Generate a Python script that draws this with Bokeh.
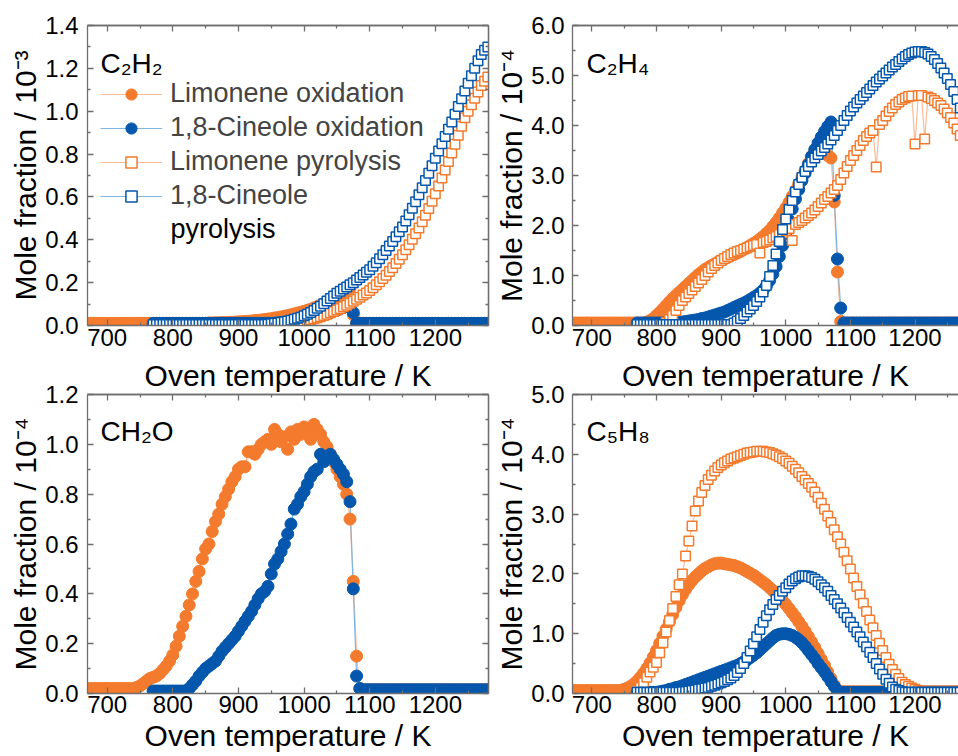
from bokeh.plotting import figure
from bokeh.models import (Range1d, LinearAxis, FixedTicker, PrintfTickFormatter,
                          Legend, LegendItem, Label)
from bokeh.layouts import column, row
from bokeh.embed import file_html
from bokeh.resources import INLINE

# ---------------- data ----------------
# temperature grids (K)
T_LIM_OX = list(range(670, 1281, 5))   # limonene oxidation
T_REST = list(range(770, 1281, 5))     # 1,8-cineole oxidation and both pyrolysis series

# C2H2, mole fraction / 1e-3
c2h2_lim_ox = ([0.01] * 37 +
    [0.012, 0.012, 0.013, 0.013, 0.014, 0.014, 0.015, 0.015, 0.016, 0.017,
     0.018, 0.019, 0.02, 0.021, 0.023, 0.024, 0.026, 0.028, 0.03, 0.032,
     0.035, 0.037, 0.04, 0.043, 0.046, 0.05, 0.054, 0.058, 0.062, 0.066,
     0.071, 0.076, 0.082, 0.088, 0.095, 0.102, 0.11, 0.118, 0.126, 0.134,
     0.143, 0.153, 0.163, 0.173, 0.05] + [0.01] * 41)
c2h2_cin_ox = ([0.01] * 37 +
    [0.011, 0.012, 0.013, 0.014, 0.015, 0.017, 0.019, 0.021, 0.023, 0.026,
     0.029, 0.032, 0.036, 0.04, 0.045, 0.05, 0.055, 0.06, 0.066, 0.072,
     0.078, 0.084, 0.09, 0.095, 0.06] + [0.01] * 41)
c2h2_lim_py = ([0.005] * 37 +
    [0.006, 0.007, 0.008, 0.009, 0.01, 0.012, 0.014, 0.016, 0.018, 0.02,
     0.023, 0.027, 0.031, 0.036, 0.041, 0.047, 0.053, 0.059, 0.065, 0.072,
     0.079, 0.087, 0.095, 0.104, 0.113, 0.122, 0.132, 0.142, 0.152, 0.163,
     0.176, 0.19, 0.204, 0.219, 0.235, 0.252, 0.27, 0.289, 0.309, 0.33,
     0.353, 0.377, 0.402, 0.428, 0.455, 0.484, 0.514, 0.546, 0.58, 0.615,
     0.651, 0.688, 0.726, 0.765, 0.805, 0.846, 0.888, 0.93, 0.97, 1.0,
     1.03, 1.06, 1.09, 1.12, 1.14, 1.16])
c2h2_cin_py = ([0.005] * 35 +
    [0.006, 0.008, 0.01, 0.012, 0.015, 0.018, 0.021, 0.025, 0.029, 0.034, 0.039, 0.045,
     0.053, 0.061, 0.07, 0.08, 0.09, 0.102, 0.114, 0.126, 0.138, 0.15,
     0.16, 0.17, 0.18, 0.19, 0.2, 0.212, 0.224, 0.236, 0.248, 0.26,
     0.276, 0.293, 0.311, 0.33, 0.35, 0.371, 0.392, 0.414, 0.437, 0.46,
     0.488, 0.517, 0.547, 0.578, 0.61, 0.643, 0.677, 0.711, 0.745, 0.78,
     0.814, 0.848, 0.882, 0.916, 0.95, 0.986, 1.022, 1.058, 1.094, 1.13,
     1.165, 1.2, 1.235, 1.265, 1.285, 1.3])

# C2H4, mole fraction / 1e-4
c2h4_lim_ox = ([0.05] * 23 +
    [0.07, 0.1, 0.14, 0.2, 0.26, 0.33, 0.4, 0.47, 0.54, 0.6,
     0.66, 0.72, 0.78, 0.84, 0.9, 0.96, 1.02, 1.07, 1.12, 1.16,
     1.2, 1.23, 1.27, 1.3, 1.33, 1.36, 1.39, 1.42, 1.45, 1.48,
     1.52, 1.56, 1.6, 1.64, 1.68, 1.73, 1.78, 1.84, 1.9, 1.98,
     2.06, 2.15, 2.25, 2.35, 2.46, 2.58, 2.7, 2.83, 2.96, 3.1,
     3.24, 3.38, 3.5, 3.55, 3.5, 3.45, 3.4, 3.35, 2.47, 1.07,
     0.08] + [0.05] * 39)
c2h4_cin_ox = ([0.05] * 13 +
    [0.06, 0.07, 0.08, 0.09, 0.1, 0.11, 0.12, 0.14, 0.15, 0.17,
     0.19, 0.21, 0.23, 0.25, 0.27, 0.3, 0.33, 0.36, 0.39, 0.42,
     0.45, 0.48, 0.52, 0.56, 0.6, 0.65, 0.71, 0.79, 0.9, 1.03,
     1.18, 1.38, 1.6, 1.84, 2.1, 2.33, 2.53, 2.72, 2.9, 3.05,
     3.22, 3.38, 3.52, 3.65, 3.77, 3.88, 3.98, 4.07, 2.6, 1.33,
     0.35] + [0.05] * 39)
c2h4_lim_py = ([0.02] * 9 +
    [0.06, 0.12, 0.2, 0.3, 0.4, 0.5, 0.57, 0.64, 0.71, 0.78,
     0.85, 0.92, 1.0, 1.07, 1.14, 1.2, 1.25, 1.3, 1.34, 1.38,
     1.42, 1.45, 1.48, 1.5, 1.53, 1.55, 1.58, 1.6, 1.62, 1.45,
     1.66, 1.68, 1.71, 1.75, 1.78, 1.82, 1.86, 1.9, 1.94, 1.7,
     2.02, 2.06, 2.1, 2.15, 2.2, 2.25, 2.31, 2.38, 2.45, 2.52,
     2.58, 2.65, 2.72, 2.8, 2.92, 3.05, 3.18, 3.3, 3.4, 3.5,
     3.6, 3.7, 3.78, 3.85, 3.9, 3.17, 4.02, 4.1, 4.19, 4.28,
     4.35, 4.42, 4.47, 4.52, 4.55, 4.58, 4.59, 3.63, 4.6, 4.6,
     3.73, 4.57, 4.54, 4.5, 4.45, 4.4, 4.33, 4.25, 4.16, 4.05,
     3.93, 3.8, 3.67, 3.55])
c2h4_cin_py = ([0.02] * 30 +
    [0.05, 0.09, 0.14, 0.2, 0.27, 0.33, 0.4, 0.48, 0.57, 0.67,
     0.8, 0.98, 1.2, 1.43, 1.68, 1.92, 2.13, 2.32, 2.5, 2.67,
     2.82, 2.96, 3.08, 3.18, 3.27, 3.35, 3.42, 3.49, 3.56, 3.63,
     3.71, 3.8, 3.9, 4.0, 4.1, 4.2, 4.29, 4.37, 4.45, 4.52,
     4.59, 4.66, 4.73, 4.8, 4.87, 4.93, 4.99, 5.05, 5.11, 5.17,
     5.22, 5.28, 5.33, 5.38, 5.42, 5.45, 5.47, 5.48, 5.48, 5.46,
     5.43, 5.38, 5.32, 5.24, 5.15, 5.05, 4.94, 4.82, 4.68, 4.52,
     4.35, 4.17, 4.0])

# CH2O, mole fraction / 1e-4
ch2o_lim_ox = ([0.02] * 15 +
    [0.025, 0.03, 0.04, 0.05, 0.06, 0.065, 0.07, 0.08, 0.095, 0.11,
     0.13, 0.155, 0.19, 0.23, 0.27, 0.31, 0.355, 0.4, 0.45, 0.49,
     0.54, 0.58, 0.6, 0.65, 0.69, 0.72, 0.76, 0.79, 0.82, 0.85,
     0.87, 0.9, 0.91, 0.91, 0.97, 0.97, 0.96, 0.98, 1.0, 1.01,
     1.02, 1.0, 1.06, 1.04, 1.01, 1.03, 0.98, 1.05, 1.02, 1.06,
     1.04, 1.07, 1.05, 1.02, 1.08, 1.06, 1.04, 1.01, 0.99, 0.96,
     0.93, 0.9, 0.87, 0.84, 0.8, 0.7, 0.45, 0.15, 0.02] + [0.015] * 39)
ch2o_cin_ox = ([0.01] * 11 +
    [0.02, 0.035, 0.05, 0.07, 0.085, 0.1, 0.11, 0.12, 0.13, 0.15,
     0.17, 0.185, 0.2, 0.215, 0.23, 0.25, 0.27, 0.29, 0.31, 0.33,
     0.355, 0.38, 0.4, 0.41, 0.43, 0.48, 0.52, 0.54, 0.57, 0.6,
     0.64, 0.68, 0.74, 0.76, 0.79, 0.81, 0.84, 0.87, 0.89, 0.9,
     0.96, 0.93, 0.95, 0.96, 0.94, 0.92, 0.9, 0.88, 0.85, 0.77,
     0.42, 0.07, 0.02] + [0.015] * 39)

# C5H8, mole fraction / 1e-4
c5h8_lim_ox = ([0.05] * 16 +
    [0.07, 0.09, 0.12, 0.16, 0.21, 0.27, 0.34, 0.42, 0.51, 0.61,
     0.72, 0.84, 0.96, 1.08, 1.2, 1.32, 1.44, 1.55, 1.65, 1.74,
     1.82, 1.89, 1.95, 2.0, 2.05, 2.09, 2.12, 2.15, 2.17, 2.18,
     2.18, 2.17, 2.16, 2.15, 2.14, 2.12, 2.1, 2.07, 2.04, 2.01,
     1.98, 1.94, 1.9, 1.86, 1.82, 1.77, 1.72, 1.67, 1.61, 1.55,
     1.49, 1.42, 1.35, 1.28, 1.2, 1.12, 1.04, 0.95, 0.86, 0.77,
     0.67, 0.57, 0.47, 0.36, 0.25, 0.14, 0.05] + [0.03] * 40)
c5h8_cin_ox = ([0.02] * 7 +
    [0.03, 0.04, 0.05, 0.07, 0.08, 0.1, 0.11, 0.13, 0.15, 0.17,
     0.19, 0.21, 0.23, 0.25, 0.27, 0.29, 0.31, 0.33, 0.35, 0.37,
     0.39, 0.41, 0.43, 0.45, 0.47, 0.5, 0.53, 0.56, 0.6, 0.64,
     0.68, 0.73, 0.78, 0.83, 0.88, 0.93, 0.97, 0.99, 1.0, 1.0,
     0.99, 0.97, 0.94, 0.9, 0.85, 0.79, 0.72, 0.65, 0.58, 0.5,
     0.43, 0.36, 0.28, 0.2, 0.12, 0.05] + [0.02] * 40)
c5h8_lim_py = ([0.05, 0.1, 0.18, 0.27, 0.36, 0.44, 0.52, 0.68, 0.85, 1.03,
     1.22, 1.42, 1.62, 1.82, 2.0, 2.3, 2.55, 2.8, 3.05, 3.22,
     3.36, 3.48, 3.58, 3.65, 3.72, 3.78, 3.82, 3.86, 3.89, 3.92,
     3.94, 3.96, 3.98, 4.0, 4.02, 4.03, 4.04, 4.05, 4.05, 4.05,
     4.04, 4.03, 4.01, 3.99, 3.96, 3.93, 3.89, 3.85, 3.8, 3.75,
     3.69, 3.63, 3.57, 3.51, 3.45, 3.37, 3.28, 3.18, 3.08, 2.97,
     2.86, 2.74, 2.62, 2.5, 2.36, 2.22, 2.08, 1.93, 1.79, 1.65,
     1.51, 1.37, 1.23, 1.1, 0.97, 0.84, 0.72, 0.6, 0.49, 0.4,
     0.32, 0.25, 0.19, 0.15, 0.12, 0.09, 0.07, 0.05, 0.04, 0.03] + [0.02] * 13)
c5h8_cin_py = ([0.02] * 14 +
    [0.03, 0.035, 0.04, 0.05, 0.06, 0.07, 0.08, 0.09, 0.1, 0.12,
     0.14, 0.16, 0.18, 0.2, 0.23, 0.26, 0.3, 0.35, 0.42, 0.5,
     0.6, 0.71, 0.83, 0.95, 1.07, 1.19, 1.3, 1.4, 1.49, 1.57,
     1.64, 1.71, 1.77, 1.83, 1.88, 1.92, 1.95, 1.97, 1.97, 1.96,
     1.94, 1.91, 1.87, 1.82, 1.77, 1.71, 1.64, 1.57, 1.5, 1.43,
     1.35, 1.27, 1.19, 1.11, 1.03, 0.95, 0.86, 0.78, 0.69, 0.6,
     0.5, 0.41, 0.32, 0.24, 0.17, 0.11, 0.07, 0.05, 0.03] + [0.02] * 20)

# tick values
X_TICKS = [700, 800, 900, 1000, 1100, 1200]
X_MINOR = [750, 850, 950, 1050, 1150, 1250]
Y_TICKS_C2H2 = [0.0, 0.2, 0.4, 0.6, 0.8, 1.0, 1.2, 1.4]
Y_MINOR_C2H2 = [0.1, 0.3, 0.5, 0.7, 0.9, 1.1, 1.3]
Y_TICKS_C2H4 = [0.0, 1.0, 2.0, 3.0, 4.0, 5.0, 6.0]
Y_MINOR_C2H4 = [0.5, 1.5, 2.5, 3.5, 4.5, 5.5]
Y_TICKS_CH2O = [0.0, 0.2, 0.4, 0.6, 0.8, 1.0, 1.2]
Y_MINOR_CH2O = [0.1, 0.3, 0.5, 0.7, 0.9, 1.1]
Y_TICKS_C5H8 = [0.0, 1.0, 2.0, 3.0, 4.0, 5.0]
Y_MINOR_C5H8 = [0.5, 1.5, 2.5, 3.5, 4.5]

SERIES_LABELS = ["Limonene oxidation", "1,8-Cineole oxidation",
                 "Limonene pyrolysis", "1,8-Cineole pyrolysis"]
X_TITLE = "Oven temperature / K"

for name, arr, grid in [("c2h2_lim_ox", c2h2_lim_ox, T_LIM_OX), ("c2h2_cin_ox", c2h2_cin_ox, T_REST),
                        ("c2h2_lim_py", c2h2_lim_py, T_REST), ("c2h2_cin_py", c2h2_cin_py, T_REST),
                        ("c2h4_lim_ox", c2h4_lim_ox, T_LIM_OX), ("c2h4_cin_ox", c2h4_cin_ox, T_REST),
                        ("c2h4_lim_py", c2h4_lim_py, T_REST), ("c2h4_cin_py", c2h4_cin_py, T_REST),
                        ("ch2o_lim_ox", ch2o_lim_ox, T_LIM_OX), ("ch2o_cin_ox", ch2o_cin_ox, T_REST),
                        ("c5h8_lim_ox", c5h8_lim_ox, T_LIM_OX), ("c5h8_cin_ox", c5h8_cin_ox, T_REST),
                        ("c5h8_lim_py", c5h8_lim_py, T_REST), ("c5h8_cin_py", c5h8_cin_py, T_REST)]:
    assert len(arr) == len(grid), (name, len(arr), len(grid))

# ---------------- styling ----------------
FONT = "Liberation Sans"
ORANGE = "#F47B2D"
BLUE = "#0457AC"
ORANGE_L = "#F9BB98"
BLUE_L = "#7DB4E2"
AXC = "#6E6E6E"
X0, X1_FULL = 670, 1281
FRAME_W_FULL = 401
FRAME_H = 300

STYLE = {
    "lim_ox": dict(color=ORANGE, light=ORANGE_L, marker="circle", fill=ORANGE),
    "cin_ox": dict(color=BLUE, light=BLUE_L, marker="circle", fill=BLUE),
    "lim_py": dict(color=ORANGE, light=ORANGE_L, marker="square", fill="white"),
    "cin_py": dict(color=BLUE, light=BLUE_L, marker="square", fill="white"),
}


def base_axis(ax):
    ax.axis_line_color = AXC
    ax.axis_line_width = 1.3
    ax.major_tick_line_color = AXC
    ax.minor_tick_line_color = AXC
    ax.major_tick_line_width = 1.3
    ax.minor_tick_line_width = 1.3
    ax.major_tick_in = 6
    ax.major_tick_out = 0
    ax.minor_tick_in = 3
    ax.minor_tick_out = 0
    ax.major_label_text_font = FONT
    ax.major_label_text_font_size = "24px"
    ax.major_label_text_color = "black"
    ax.axis_label_text_font = FONT
    ax.axis_label_text_font_size = "30px"
    ax.axis_label_text_font_style = "normal"
    ax.axis_label_text_color = "black"
    ax.axis_label_standoff = 0


def add_mirror(p, side, major, minor, label=None, label_standoff=0):
    # minor ticks only (no labels), placed against the frame
    a_min = LinearAxis(ticker=FixedTicker(ticks=[], minor_ticks=minor))
    base_axis(a_min)
    a_min.major_label_standoff = 0
    p.add_layout(a_min, side)
    a_maj = LinearAxis(ticker=FixedTicker(ticks=[], minor_ticks=major))
    base_axis(a_maj)
    a_maj.minor_tick_in = 6
    a_maj.major_label_standoff = 0
    if label:
        a_maj.axis_label = label
        a_maj.axis_label_standoff = label_standoff
    p.add_layout(a_maj, side)


def make_panel(top, right, species, ylabel, y_end, yticks, yminor, series,
               upper_title=False, legend=False):
    frame_w = 392 if right else FRAME_W_FULL
    left_b = 74 if right else 87
    right_b = 0 if right else 4
    top_b, bottom_b = (25, 30) if top else (38, 63)
    x_end = X0 + frame_w * (X1_FULL - X0) / FRAME_W_FULL
    p = figure(width=left_b + frame_w + right_b, height=top_b + FRAME_H + bottom_b,
               x_range=Range1d(X0, x_end), y_range=Range1d(0, y_end),
               x_axis_type=None, y_axis_type=None,
               min_border_left=left_b, min_border_right=right_b,
               min_border_top=top_b, min_border_bottom=bottom_b,
               output_backend="svg", toolbar_location=None)
    p.outline_line_color = None
    p.background_fill_color = "white"
    p.border_fill_color = "white"

    xb = LinearAxis(ticker=FixedTicker(ticks=X_TICKS, minor_ticks=X_MINOR))
    base_axis(xb)
    xb.major_label_standoff = 3 if top else 2
    if not top:
        xb.axis_label = X_TITLE
        xb.axis_label_standoff = 3
    p.add_layout(xb, "below")
    add_mirror(p, "above", X_TICKS, X_MINOR, label=X_TITLE if upper_title else None,
               label_standoff=3)

    yl = LinearAxis(ticker=FixedTicker(ticks=yticks, minor_ticks=yminor),
                    formatter=PrintfTickFormatter(format="%.1f"), axis_label=ylabel)
    base_axis(yl)
    yl.major_label_standoff = 8 if right else 9
    p.add_layout(yl, "left")
    if not right:
        add_mirror(p, "right", yticks, yminor)

    line_r, scat_r = {}, {}
    for key, xs, ys in series:
        st = STYLE[key]
        line_r[key] = p.line(xs, ys, line_color=st["light"], line_width=1.2)
    for key, xs, ys in series:
        st = STYLE[key]
        if st["marker"] == "circle":
            scat_r[key] = p.scatter(xs, ys, marker="circle", size=12, fill_color=st["fill"],
                                    line_color=st["color"], line_width=1)
        else:
            scat_r[key] = p.scatter(xs, ys, marker="square", size=9.5, fill_color=st["fill"],
                                    line_color=st["color"], line_width=1.5)

    p.add_layout(Label(x=14 if right else 13, y=262, x_units="screen", y_units="screen",
                       text=species, text_font=FONT, text_font_size="28px",
                       text_baseline="alphabetic", text_color="black"))

    if legend:
        keys = ["lim_ox", "cin_ox", "lim_py", "cin_py"]
        labels = SERIES_LABELS[:3] + ["1,8-Cineole"]
        items = [LegendItem(label=lab, renderers=[line_r[k], scat_r[k]]) for k, lab in zip(keys, labels)]
        lg = Legend(items=items, location=(13, 114), label_text_font=FONT, label_text_font_size="27px",
                    glyph_width=62, glyph_height=28, label_height=31, label_standoff=8,
                    spacing=3, padding=0, margin=0, border_line_color=None,
                    background_fill_alpha=0)
        p.add_layout(lg)
        p.add_layout(Label(x=83, y=97, x_units="screen", y_units="screen", text="pyrolysis",
                           text_font=FONT, text_font_size="27px", text_baseline="middle",
                           text_color="black"))
    return p


f1 = make_panel(True, False, "C₂H₂", "Mole fraction / 10⁻³", 1.4, Y_TICKS_C2H2, Y_MINOR_C2H2,
                [("lim_ox", T_LIM_OX, c2h2_lim_ox), ("cin_ox", T_REST, c2h2_cin_ox),
                 ("lim_py", T_REST, c2h2_lim_py), ("cin_py", T_REST, c2h2_cin_py)], legend=True)
f2 = make_panel(True, True, "C₂H₄", "Mole fraction / 10⁻⁴", 6.0, Y_TICKS_C2H4, Y_MINOR_C2H4,
                [("lim_ox", T_LIM_OX, c2h4_lim_ox), ("cin_ox", T_REST, c2h4_cin_ox),
                 ("lim_py", T_REST, c2h4_lim_py), ("cin_py", T_REST, c2h4_cin_py)])
f3 = make_panel(False, False, "CH₂O", "Mole fraction / 10⁻⁴", 1.2, Y_TICKS_CH2O, Y_MINOR_CH2O,
                [("lim_ox", T_LIM_OX, ch2o_lim_ox), ("cin_ox", T_REST, ch2o_cin_ox)],
                upper_title=True)
f4 = make_panel(False, True, "C₅H₈", "Mole fraction / 10⁻⁴", 5.0, Y_TICKS_C5H8, Y_MINOR_C5H8,
                [("lim_ox", T_LIM_OX, c5h8_lim_ox), ("cin_ox", T_REST, c5h8_cin_ox),
                 ("lim_py", T_REST, c5h8_lim_py), ("cin_py", T_REST, c5h8_cin_py)],
                upper_title=True)

layout = column(row(f1, f2), row(f3, f4))
open("out.html", "w").write(file_html(layout, INLINE))
